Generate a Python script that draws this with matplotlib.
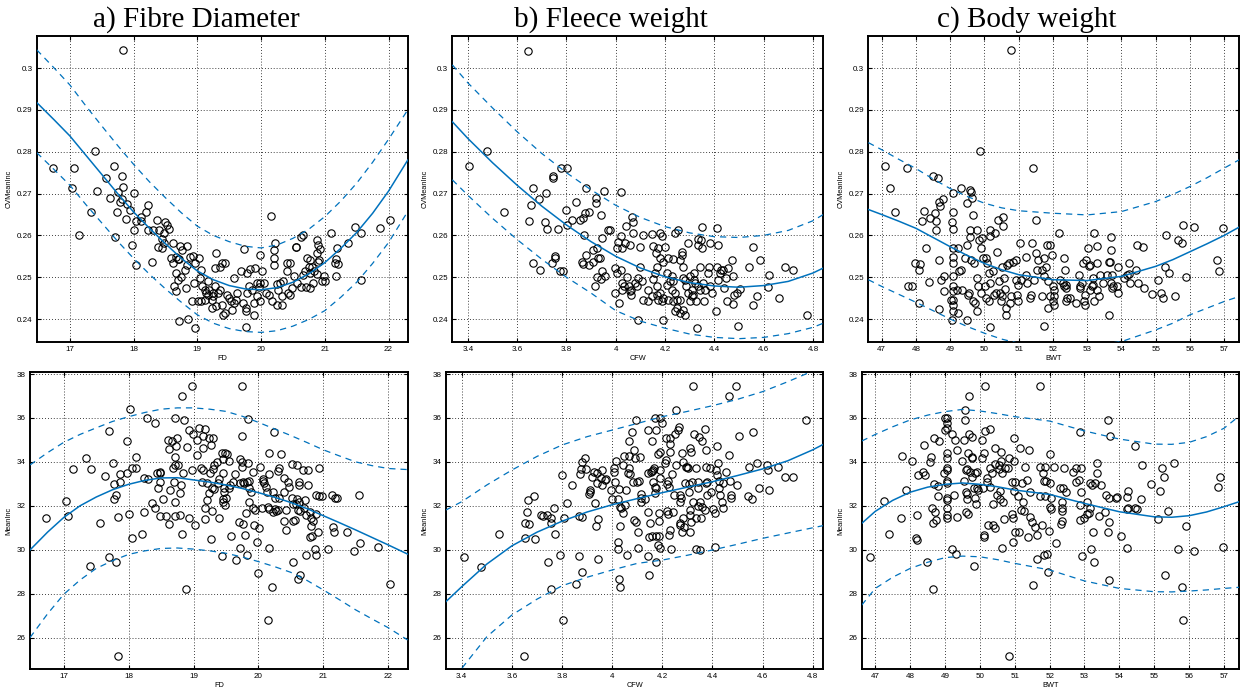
import numpy as np
import matplotlib
matplotlib.use('Agg')
import matplotlib.pyplot as plt

# ---------------- data ----------------
# top row: CVMeanInc against FD, CFW, BWT
fd_cv = [(16.73,.2762),(17.84,.3044),(17.39,.2803),(17.03,.2714),(17.07,.2761),(17.42,.2707),(17.15,.2601),
         (17.33,.2657),(17.56,.2737),(17.69,.2765),(17.82,.2743),(17.63,.2690),(17.76,.2704),(17.84,.2715),
         (17.78,.2681),(17.82,.2688),(17.74,.2655),(17.90,.2675),(17.94,.2661),(17.88,.2640),(18.01,.2701),
         (18.04,.2635),(18.12,.2645),(18.12,.2635),(18.22,.2673),(18.20,.2657),(18.01,.2613),(17.71,.2596),
         (17.98,.2577),(18.04,.2530),(18.23,.2613),(18.30,.2613),(18.29,.2537),(18.37,.2637),(18.40,.2613),
         (18.38,.2573),(18.45,.2591),(18.47,.2583),(18.44,.2569),(18.49,.2631),(18.53,.2624),(18.56,.2615),
         (18.47,.2605),(18.62,.2581),(18.62,.2533),(18.59,.2545),(18.67,.2549),(18.70,.2543),(18.72,.2543),
         (18.76,.2565),(18.73,.2575),(18.84,.2575),(18.88,.2549),(18.84,.2530),(18.93,.2551),(18.97,.2533),
         (19.02,.2545),(18.67,.2510),(18.70,.2494),(18.75,.2500),(18.81,.2518),(18.64,.2479),(18.66,.2466),
         (18.82,.2474),(18.92,.2442),(19.01,.2442),(18.71,.2396),(18.85,.2400),(18.97,.2378),(18.95,.2486),
         (19.06,.2518),(19.04,.2498),(19.08,.2478),(19.12,.2470),(19.14,.2463),(19.17,.2458),(19.12,.2446),
         (19.06,.2442),(19.19,.2470),(19.25,.2462),(19.27,.2478),(19.29,.2557),(19.27,.2521),(19.35,.2525),
         (19.23,.2426),(19.30,.2430),(19.38,.2434),(19.41,.2410),(19.39,.2533),(19.17,.2490),(19.32,.2462),
         (19.35,.2470),(19.25,.2454),(19.23,.2446),
         (20.15,.2647),(20.22,.2581),(19.99,.2553),(19.73,.2567),(19.44,.2533),(19.57,.2498),(19.68,.2514),
         (19.78,.2511),(19.83,.2519),(19.91,.2522),(20.02,.2516),(20.20,.2565),(20.20,.2545),(20.20,.2529),
         (19.44,.2414),(19.46,.2458),(19.49,.2450),(19.53,.2442),(19.57,.2438),(19.60,.2446),(19.62,.2462),
         (19.55,.2422),(19.71,.2438),(19.76,.2426),(19.76,.2418),(19.78,.2462),(19.81,.2478),(19.86,.2470),
         (19.89,.2438),(19.89,.2410),(19.77,.2382),(19.94,.2486),(19.97,.2476),(19.99,.2487),(20.04,.2487),
         (20.07,.2462),(20.12,.2458),(19.94,.2454),(19.99,.2442),(20.17,.2442),(20.25,.2434),(20.33,.2434),
         (20.27,.2470),(20.30,.2487),(20.25,.2483),(20.35,.2491),(20.40,.2514),(20.46,.2533),(20.40,.2533),
         (20.33,.2454),(20.43,.2462),(20.49,.2474),(20.46,.2458),(20.54,.2573),(20.55,.2573),(20.51,.2502),
         (20.57,.2487),(20.62,.2476),(20.62,.2597),(20.66,.2601),(20.66,.2506),(20.69,.2514),(20.72,.2545),
         (20.77,.2541),(20.75,.2525),(20.80,.2525),(20.77,.2510),(20.83,.2514),(20.71,.2476),(20.77,.2474),
         (20.81,.2485),(20.87,.2557),(20.90,.2537),(20.91,.2541),(20.93,.2567),(20.88,.2589),(20.90,.2577),
         (20.88,.2508),(20.96,.2490),(20.98,.2502),(21.01,.2492),(21.09,.2605),(21.17,.2502),(21.19,.2571),
         (21.16,.2533),(21.21,.2531),(21.17,.2543),(21.37,.2583),(21.48,.2621),(21.57,.2605),(21.56,.2494),
         (21.86,.2618),(22.03,.2637)]

cfw_cv = [(3.646,.3042),(3.477,.2803),(3.405,.2765),(3.547,.2657),(3.664,.2714),(3.658,.2673),(3.650,.2635),
          (3.689,.2688),(3.716,.2701),(3.715,.2631),(3.723,.2615),(3.666,.2533),(3.693,.2518),(3.745,.2743),
          (3.747,.2737),(3.777,.2761),(3.804,.2762),(3.753,.2545),(3.754,.2551),(3.741,.2533),(3.764,.2615),
          (3.772,.2514),(3.788,.2516),(3.797,.2661),(3.801,.2625),(3.822,.2637),(3.838,.2681),(3.855,.2637),
          (3.869,.2641),(3.878,.2714),(3.876,.2653),(3.892,.2657),(3.870,.2601),(3.878,.2553),(3.865,.2537),
          (3.869,.2532),(3.892,.2529),(3.907,.2565),(3.909,.2537),(3.919,.2689),(3.920,.2677),(3.926,.2569),
          (3.930,.2545),(3.936,.2545),(3.939,.2649),(3.943,.2593),(3.914,.2479),(3.926,.2500),(3.941,.2495),
          (3.943,.2516),(3.958,.2502),(3.954,.2707),(3.970,.2612),(3.977,.2613),(3.995,.2463),(3.997,.2522),
          (4.004,.2510),(4.004,.2569),(4.020,.2703),(4.022,.2599),(4.024,.2569),(4.011,.2585),(4.014,.2439),
          (4.020,.2518),(4.024,.2486),(4.024,.2470),(4.034,.2479),(4.039,.2583),(4.041,.2623),(4.045,.2500),
          (4.055,.2478),(4.058,.2466),(4.061,.2458),(4.065,.2645),(4.069,.2633),(4.072,.2605),(4.058,.2577),
          (4.061,.2470),(4.092,.2398),(4.078,.2486),(4.085,.2478),(4.092,.2498),(4.099,.2525),(4.099,.2573),
          (4.109,.2601),(4.105,.2490),
          (4.112,.2446),(4.132,.2470),(4.132,.2442),(4.146,.2454),(4.166,.2478),(4.166,.2458),(4.173,.2446),
          (4.180,.2462),(4.186,.2442),(4.193,.2450),(4.193,.2398),(4.150,.2495),(4.159,.2510),(4.166,.2525),
          (4.173,.2569),(4.152,.2575),(4.163,.2557),(4.147,.2603),(4.180,.2605),(4.186,.2599),(4.200,.2573),
          (4.180,.2545),(4.193,.2537),(4.214,.2545),(4.207,.2510),(4.227,.2502),(4.220,.2490),(4.234,.2490),
          (4.207,.2482),(4.227,.2470),(4.241,.2462),(4.214,.2446),(4.234,.2442),(4.247,.2446),(4.261,.2446),
          (4.247,.2426),(4.241,.2418),(4.259,.2414),(4.274,.2422),(4.281,.2410),(4.234,.2543),(4.241,.2605),
          (4.254,.2613),(4.268,.2561),(4.268,.2553),(4.261,.2541),(4.272,.2525),(4.274,.2498),(4.281,.2494),
          (4.285,.2479),(4.295,.2462),(4.295,.2581),(4.300,.2502),(4.301,.2442),(4.308,.2470),(4.308,.2454),
          (4.315,.2458),(4.318,.2494),(4.318,.2511),(4.322,.2487),(4.326,.2442),(4.328,.2378),(4.335,.2478),
          (4.335,.2577),(4.332,.2591),(4.349,.2621),(4.345,.2589),(4.349,.2569),(4.342,.2525),(4.342,.2470),
          (4.355,.2487),(4.362,.2470),(4.358,.2442),(4.376,.2510),(4.380,.2525),(4.382,.2581),(4.382,.2478),
          (4.389,.2462),(4.407,.2418),(4.409,.2617),(4.416,.2577),(4.412,.2525),(4.416,.2494),(4.423,.2510),
          (4.426,.2518),(4.436,.2518),(4.439,.2474),(4.447,.2498),(4.453,.2442),(4.457,.2522),(4.470,.2541),
          (4.474,.2502),(4.474,.2436),(4.480,.2458),(4.491,.2462),(4.497,.2384),(4.504,.2471),(4.542,.2525),
          (4.555,.2573),(4.558,.2434),(4.572,.2455),(4.585,.2540),(4.619,.2476),(4.623,.2506),(4.664,.2450),
          (4.688,.2525),(4.720,.2518),(4.774,.2410)]

bwt_cv = [(50.79,.3044),(49.86,.2803),(47.10,.2765),(47.75,.2762),(47.24,.2714),(47.39,.2657),(48.49,.2742),
          (48.65,.2737),(48.23,.2659),(48.17,.2635),(48.41,.2641),(48.55,.2653),(48.58,.2635),(48.60,.2613),
          (48.66,.2681),(48.70,.2671),(48.80,.2687),(49.07,.2701),(49.09,.2657),(49.06,.2631),(49.07,.2615),
          (49.32,.2713),(49.57,.2709),(49.62,.2705),(49.65,.2689),(49.48,.2677),(49.67,.2649),(48.28,.2569),
          (47.96,.2533),(48.11,.2532),(48.10,.2518),(47.78,.2478),(47.88,.2479),(48.08,.2439),(48.38,.2488),
          (48.66,.2541),(48.67,.2423),(48.73,.2494),(48.82,.2502),(48.83,.2466),(49.03,.2446),(49.05,.2398),
          (49.07,.2569),(49.07,.2549),(49.07,.2533),(49.07,.2502),(49.07,.2478),(49.07,.2466),(49.07,.2446),
          (49.07,.2434),(49.09,.2418),(49.19,.2470),(49.22,.2414),(49.23,.2569),(49.27,.2516),(49.32,.2518),
          (49.42,.2545),(49.35,.2470),(49.49,.2577),(49.52,.2458),(49.55,.2462),(49.49,.2398),(49.58,.2613),
          (49.58,.2597),(49.62,.2541),(49.67,.2442),(49.72,.2439),(49.69,.2533),(49.77,.2613),(49.77,.2498),
          (49.82,.2478),(49.79,.2418),(49.84,.2589),(49.91,.2462),(49.91,.2569),(49.96,.2545),(49.94,.2593),
          (50.01,.2478),(50.04,.2450),(50.06,.2545),(50.08,.2533),(50.13,.2510),(50.16,.2613),(50.17,.2599),
          (50.16,.2486),(50.14,.2442),(50.16,.2380),(50.25,.2514),(50.27,.2458),(50.30,.2605),(50.35,.2462),
          (50.38,.2561),(50.40,.2637),(50.43,.2490),(50.45,.2462),(50.47,.2442),(50.50,.2454),(50.54,.2645),
          (50.54,.2623),(50.52,.2525),(50.57,.2498),(50.59,.2471),(50.62,.2426),(50.64,.2410),(50.66,.2529),
          (50.72,.2533),(50.74,.2438),(50.79,.2454),(50.82,.2537),(50.91,.2541),(50.93,.2494),(50.95,.2458),
          (50.98,.2442),(50.98,.2482),(51.03,.2583),(51.08,.2494),(51.22,.2549),(51.24,.2487),(51.22,.2506),
          (51.32,.2450),(51.37,.2458),(51.39,.2581),(51.42,.2761),(51.50,.2637),(51.50,.2557),(51.53,.2518),
          (51.56,.2541),(51.44,.2494),
          (51.73,.2545),(51.83,.2577),(51.90,.2577),(51.97,.2553),(51.81,.2525),(51.68,.2518),(51.73,.2502),
          (51.87,.2490),(51.68,.2454),(51.92,.2454),(51.87,.2426),(52.00,.2478),(52.04,.2470),(52.04,.2454),
          (52.00,.2442),(52.02,.2434),(51.75,.2384),(52.19,.2605),(52.33,.2545),(52.36,.2518),(52.21,.2494),
          (52.29,.2487),(52.31,.2478),(52.39,.2482),(52.39,.2474),(52.41,.2450),(52.39,.2442),(52.49,.2450),
          (52.68,.2438),(52.75,.2506),(52.80,.2479),(52.84,.2487),(52.78,.2474),(52.89,.2533),(52.94,.2434),
          (52.91,.2442),(52.94,.2458),(52.97,.2541),(53.04,.2527),(53.09,.2529),(53.01,.2571),(53.07,.2470),
          (53.14,.2478),(53.17,.2482),(53.18,.2498),(53.20,.2605),(53.20,.2442),(53.28,.2575),(53.28,.2533),
          (53.28,.2470),(53.33,.2455),(53.38,.2506),(53.46,.2487),(53.57,.2506),(53.65,.2537),(53.67,.2537),
          (53.69,.2597),(53.69,.2565),(53.72,.2505),(53.69,.2487),(53.72,.2474),(53.75,.2479),(53.65,.2410),
          (53.88,.2478),(53.91,.2462),(53.91,.2525),(54.06,.2498),(54.17,.2506),(54.23,.2508),(54.23,.2535),
          (54.25,.2487),(54.43,.2518),(54.47,.2487),(54.45,.2577),(54.62,.2573),(54.66,.2474),(54.88,.2460),
          (55.08,.2494),(55.15,.2463),(55.21,.2450),(55.27,.2524),(55.30,.2601),(55.40,.2510),(55.56,.2455),
          (55.66,.2589),(55.76,.2581),(55.81,.2625),(55.88,.2500),(56.12,.2621),(56.80,.2540),(56.85,.2516),
          (56.95,.2617)]

# bottom row: MeanInc against FD, CFW, BWT
fd_mean = [(18.98,37.47),(18.82,37.01),(18.02,36.39),(18.29,36.01),(18.40,35.78),(18.71,36.01),(18.85,35.89),
           (17.70,35.41),(17.98,34.97),(18.60,35.00),(18.67,34.95),(18.74,35.10),(18.93,35.45),(18.99,35.25),
           (19.09,35.53),(19.17,35.50),(19.15,35.20),(19.24,35.10),(19.30,35.10),(19.06,35.00),(18.73,34.74),
           (18.62,34.57),(18.90,34.69),(19.15,34.62),(19.27,34.77),(19.44,34.39),(19.05,34.31),(18.72,34.24),
           (18.12,34.24),(17.35,34.19),(17.76,33.96),(17.42,33.66),(17.15,33.66),(17.63,33.35),(17.87,33.43),
           (17.97,33.48),(18.05,33.70),(18.12,33.73),(18.43,33.48),(18.48,33.55),(18.49,33.48),(18.23,33.25),
           (18.30,33.22),(17.78,32.98),(17.87,33.07),(18.48,33.07),(18.70,33.07),(18.84,33.48),(18.72,33.86),
           (18.76,33.86),(18.68,33.70),(18.81,32.95),(18.97,33.63),(19.12,33.70),(19.15,33.63),(19.13,33.10),
           (19.20,33.05),(19.26,33.48),(19.30,33.66),(19.32,33.86),(19.36,33.98),(18.45,32.83),(18.64,32.72),
           (18.79,32.57),(17.81,32.49),(17.77,32.31),(17.04,32.23),(18.36,32.14),(18.40,31.91),(18.53,32.31),
           (18.72,32.19),(19.24,32.57),(19.21,32.26),(19.28,32.83),(19.31,32.77),(19.40,33.22),(19.37,33.02),
           (16.73,31.43),(17.07,31.54),(17.56,31.23),(17.83,31.50),(18.01,31.61),(18.23,31.70),(18.48,31.54),
           (18.57,31.55),(18.62,31.16),(18.71,31.54),(18.79,31.58),(18.93,31.46),(19.02,31.13),(19.18,31.91),
           (19.18,31.38),(19.29,31.76),(19.40,31.43),(18.05,30.55),(18.21,30.70),(18.82,30.70),(19.27,30.47),
           (17.69,29.68),(17.81,29.46),(17.40,29.24),(18.88,28.20),(17.83,25.18),(19.44,29.71),
           (19.49,34.42),(19.51,34.34),(19.46,34.13),(19.45,33.48),(19.47,32.64),(19.47,32.80),(19.46,32.31),
           (19.50,32.37),(19.46,32.16),(19.49,32.04),
           (19.75,37.47),(19.84,35.94),(19.74,35.19),(20.24,35.37),(19.55,34.06),(19.64,33.43),(19.61,33.10),
           (19.56,32.95),(19.54,32.80),(19.71,34.13),(19.74,34.01),(19.75,33.78),(19.72,33.02),(19.76,33.10),
           (19.78,33.02),(19.82,33.10),(19.85,33.13),(19.84,33.93),(19.91,33.55),(19.86,32.80),(19.89,32.64),
           (19.85,32.19),(19.91,31.88),(19.94,31.81),(19.81,31.69),(19.70,31.28),(19.76,31.16),(19.93,31.13),
           (20.01,31.00),(19.80,30.67),(19.72,30.06),(19.82,29.76),(19.58,30.62),(19.98,30.37),(19.99,28.93),
           (19.65,29.53),(20.02,33.78),(20.07,33.22),(20.07,33.13),(20.09,33.05),(20.11,32.87),(20.13,32.64),
           (20.06,31.91),(20.14,31.96),(20.17,31.85),(20.17,34.39),(20.34,34.36),(20.30,33.58),(20.32,33.70),
           (20.16,33.43),(20.22,32.64),(20.25,32.34),(20.22,31.73),(20.25,31.85),(20.27,31.76),(20.30,31.81),
           (20.32,32.34),(20.39,33.28),(20.40,32.64),(20.45,33.07),(20.47,32.87),(20.51,33.89),(20.42,31.81),
           (20.40,31.31),(20.43,30.90),(20.51,32.37),(20.53,32.07),(20.58,32.07),(20.53,31.31),(20.57,31.35),
           (20.60,33.86),(20.63,33.10),(20.63,32.95),(20.59,32.31),(20.63,32.19),(20.61,31.81),(20.64,31.76),
           (20.70,31.91),(20.68,33.63),(20.71,32.26),(20.74,31.58),(20.76,32.95),(20.77,33.63),(20.80,31.73),
           (20.81,31.46),(20.84,31.31),(20.81,31.10),(20.79,30.59),(20.83,30.64),(20.89,32.49),(20.89,31.61),
           (20.93,33.70),(20.94,32.46),(20.98,32.46),(20.92,30.82),(20.87,30.02),(20.88,29.76),(21.07,30.02),
           (20.73,29.76),(20.54,29.46),(20.64,28.85),(20.61,28.67),(20.17,30.06),(20.21,28.32),(20.14,26.80),
           (21.14,32.48),(21.18,32.37),(21.21,32.34),(21.15,31.05),(21.16,30.82),(21.36,30.82),(21.55,32.49),
           (21.56,30.29),(21.47,29.94),(21.85,30.14),(22.03,28.42)]

cfw_mean = [(3.407,29.68),(3.478,29.23),(3.547,30.70),(3.651,31.20),(3.663,32.26),(3.661,31.70),(3.667,31.16),
            (3.654,30.55),(3.690,32.46),(3.694,30.47),(3.717,31.58),(3.725,31.55),(3.738,31.58),(3.754,31.46),
            (3.757,31.20),(3.768,31.88),(3.773,30.70),(3.745,29.46),(3.754,28.20),(3.790,29.76),(3.801,33.40),
            (3.808,31.43),(3.821,32.11),(3.841,32.95),(3.805,26.80),(3.647,25.18),(3.868,31.55),(3.881,31.50),
            (3.867,29.71),(3.881,28.97),(3.857,28.42),(3.872,33.43),(3.877,33.68),(3.881,33.98),(3.892,34.19),
            (3.897,33.68),(3.908,32.52),(3.913,32.61),(3.912,32.72),(3.921,33.31),(3.928,33.55),(3.939,33.02),
            (3.941,33.48),(3.931,32.14),(3.935,31.10),(3.944,31.40),(3.944,29.56),(3.955,33.25),(3.961,32.95),
            (3.961,33.63),(3.970,33.17),(3.977,33.22),(3.997,32.72),(3.998,32.31),(4.008,33.73),(4.006,33.52),
            (4.012,33.07),(4.015,34.04),(4.024,32.31),(4.028,32.77),(4.032,31.96),(4.022,30.37),(4.024,30.02),
            (4.030,31.10),(4.029,28.67),(4.032,28.32),(4.035,31.88),(4.042,31.66),(4.042,33.86),(4.048,34.28),
            (4.051,32.04),(4.055,32.72),(4.062,33.48),(4.068,34.95),(4.068,34.28),(4.068,33.73),(4.071,33.45),
            (4.059,29.76),(4.082,33.07),(4.088,34.54),(4.088,31.35),(4.095,35.91),(4.099,33.10),(4.095,31.28),
            (4.102,30.82),(4.102,30.06),(4.105,33.13),(4.109,34.24),(4.113,32.52),(4.115,32.19),
            (4.080,35.37),(4.089,34.16),
            (4.116,32.34),(4.131,32.31),(4.143,33.48),(4.153,33.52),(4.157,33.60),(4.163,33.63),(4.165,33.70),
            (4.143,35.45),(4.176,35.45),(4.160,34.95),(4.172,36.01),(4.189,36.01),(4.200,35.75),(4.183,34.34),
            (4.189,34.46),(4.143,31.73),(4.149,31.20),(4.147,30.59),(4.157,30.64),(4.176,30.64),(4.188,30.64),
            (4.183,30.21),(4.192,30.06),(4.143,29.73),(4.174,29.46),(4.147,28.85),(4.163,33.07),(4.169,32.87),
            (4.169,32.57),(4.174,32.80),(4.189,33.63),(4.192,33.25),(4.188,31.66),(4.188,31.31),(4.209,33.93),
            (4.216,34.09),(4.213,35.07),(4.229,35.07),(4.229,34.80),(4.232,34.46),(4.223,33.13),(4.219,32.98),
            (4.226,32.87),(4.219,31.76),(4.223,31.61),(4.229,30.90),(4.226,30.67),(4.236,30.02),(4.240,33.43),
            (4.243,31.73),(4.245,32.49),(4.249,35.29),(4.253,36.36),(4.263,35.45),(4.267,35.60),(4.256,33.86),
            (4.269,32.49),(4.269,32.19),(4.276,32.34),(4.272,31.13),(4.280,34.39),(4.283,34.01),(4.269,31.20),
            (4.283,31.43),(4.285,31.05),(4.280,30.82),(4.289,33.02),(4.293,33.78),(4.299,33.78),(4.303,33.73),
            (4.307,32.98),(4.307,32.64),(4.309,31.81),(4.316,34.46),(4.312,34.65),(4.312,31.58),(4.316,31.28),
            (4.309,30.82),(4.320,33.10),(4.323,32.19),(4.327,35.25),(4.323,37.47),(4.334,31.43),(4.336,33.70),
            (4.336,30.03),(4.343,33.10),(4.343,32.80),(4.343,32.01),(4.347,35.15),(4.350,32.19),(4.352,29.99),
            (4.356,31.43),(4.360,34.95),(4.360,31.96),(4.370,31.81),(4.370,35.50),(4.374,34.54),(4.374,33.78),
            (4.376,33.02),(4.379,33.10),(4.379,32.49),(4.390,33.70),(4.396,32.64),(4.403,31.85),(4.410,30.14),
            (4.410,31.66),(4.414,33.63),(4.416,34.74),(4.419,33.40),(4.423,33.93),(4.427,32.83),(4.427,33.13),
            (4.430,32.49),(4.436,32.19),(4.440,33.02),(4.443,31.91),(4.454,33.55),(4.467,34.31),(4.470,33.13),
            (4.472,32.49),(4.472,32.37),(4.467,37.01),(4.494,37.45),(4.496,32.95),(4.507,35.19),(4.543,32.46),
            (4.556,32.31),(4.547,33.75),(4.561,35.37),(4.577,33.93),(4.587,32.83),(4.617,33.86),(4.623,33.63),
            (4.627,32.72),(4.663,33.75),(4.690,33.33),(4.721,33.33),(4.774,35.92)]

bwt_mean = [(46.84,29.68),(47.24,32.23),(47.39,30.70),(47.75,31.43),(47.88,32.72),(47.78,34.28),(48.06,34.05),
            (48.20,31.58),(48.16,30.55),(48.20,30.44),(48.23,33.40),(48.38,33.55),(48.42,33.40),(48.39,34.77),
            (48.57,33.98),(48.59,34.24),(48.49,29.46),(48.66,28.20),(48.62,31.91),(48.66,31.23),(48.74,31.35),
            (48.71,31.73),(48.68,32.98),(48.68,35.10),(48.84,34.95),(48.81,32.92),(48.81,32.46),(49.00,35.45),
            (49.00,36.01),(49.07,36.01),(49.07,35.75),(49.07,35.53),(48.97,33.51),(49.07,34.39),(49.07,34.19),
            (49.07,33.70),(49.07,33.63),(49.07,33.13),(49.07,33.02),(49.07,32.37),(49.07,32.26),(49.07,31.88),
            (49.07,31.58),(49.07,31.46),(49.19,35.25),(49.26,32.49),(49.29,35.00),(49.34,34.54),(49.34,31.50),
            (49.20,30.02),(49.32,29.79),(49.53,35.00),(49.56,35.91),(49.58,36.36),(49.50,34.04),(49.53,33.13),
            (49.60,33.63),(49.60,32.64),(49.62,33.67),(49.62,32.52),(49.64,32.31),(49.60,31.70),(49.66,31.61),
            (49.66,34.39),(49.68,37.01),(49.68,35.25),(49.76,35.15),(49.72,33.55),(49.77,34.24),(49.77,34.16),
            (49.78,33.33),(49.84,32.83),(49.86,33.51),(49.91,33.55),(49.86,32.34),(49.88,32.07),(49.82,29.27),
            (49.91,32.80),(49.94,32.72),(50.06,35.00),(50.06,34.16),(50.13,34.39),(50.09,32.83),(50.15,35.41),
            (50.15,37.47),(50.20,33.25),(50.20,33.10),(50.22,31.13),(50.11,30.67),(50.13,30.59),(50.28,35.50),
            (50.28,33.73),(50.28,32.87),(50.35,33.48),(50.38,32.07),(50.39,31.13),(50.44,30.97),(50.42,34.65),
            (50.44,33.89),(50.49,32.49),(50.54,33.86),(50.54,33.67),(50.57,32.67),(50.59,32.31),(50.61,34.04),
            (50.61,34.43),(50.63,33.48),(50.66,32.19),(50.63,30.09),(50.70,31.40),(50.73,33.70),(50.80,33.70),
            (50.83,34.19),(50.83,25.18),(50.92,31.61),(50.92,33.10),(50.95,31.46),(50.95,30.37),(50.97,35.10),
            (50.99,34.04),(50.99,32.67),(51.02,33.10),(51.02,30.82),(51.09,32.46),(51.12,30.79),(51.14,34.65),
            (51.18,31.81),(51.21,33.02),(51.24,32.19),(51.26,31.76),(51.28,33.78),(51.36,33.17),(51.38,30.59),
            (51.40,34.54),(51.43,32.64),(51.45,31.50),(51.50,31.28),(51.53,28.39),(51.57,31.05),(51.63,29.58),
            (51.64,30.67),(51.73,37.47),(51.71,33.75),(51.71,32.45),
            (51.81,33.49),(51.88,33.75),(51.83,33.13),(51.90,33.13),(52.00,33.02),(52.02,34.34),(52.12,33.78),
            (51.88,32.43),(52.04,32.37),(52.00,31.96),(52.04,31.85),(51.78,31.13),(51.97,30.85),(52.19,30.29),
            (51.83,29.76),(51.92,29.79),(51.94,28.97),(52.31,32.83),(52.38,32.83),(52.40,33.70),(52.48,32.64),
            (52.36,32.19),(52.36,31.91),(52.36,31.76),(52.36,31.31),(52.33,31.16),(52.67,33.55),(52.77,33.70),
            (52.77,33.10),(52.84,33.17),(52.90,33.73),(52.90,32.64),(52.88,35.37),(52.87,32.04),(52.88,31.35),
            (52.93,29.73),(52.98,31.43),(53.06,32.16),(53.08,31.61),(53.12,31.66),(53.17,31.88),(53.15,33.02),
            (53.22,32.95),(53.25,30.82),(53.19,30.03),(53.27,29.46),(53.29,33.02),(53.37,33.48),(53.37,33.93),
            (53.41,31.55),(53.46,32.95),(53.58,31.70),(53.63,32.49),(53.67,35.91),(53.67,30.82),(53.70,31.25),
            (53.70,32.34),(53.73,35.19),(53.70,28.62),(53.89,32.37),(53.92,32.42),(54.04,30.64),(54.21,31.85),
            (54.25,31.88),(54.23,30.06),(54.21,32.42),(54.25,32.67),(54.44,34.74),(54.44,31.91),(54.50,31.85),
            (54.62,32.31),(54.66,33.86),(54.90,32.98),(55.10,31.40),(55.17,32.67),(55.21,33.73),(55.29,33.33),
            (55.31,28.85),(55.40,31.76),(55.56,33.93),(55.67,30.03),(55.79,28.32),(55.82,26.80),(55.91,31.10),
            (56.13,29.94),(56.83,32.87),(56.88,33.33),(56.97,30.14)]

# fitted curves and dashed bands, read at x positions along each axis
fd_grid = [16.48, 16.75, 17.0, 17.25, 17.5, 17.75, 18.0, 18.25, 18.5, 18.75, 19.0, 19.25, 19.5, 19.75,
           20.0, 20.25, 20.5, 20.75, 21.0, 21.25, 21.5, 21.75, 22.0, 22.3]
fd_cv_fit = [0.2918, 0.2877, 0.2838, 0.2792, 0.2746, 0.2700, 0.2656, 0.2617, 0.2580, 0.2545, 0.2515,
             0.2494, 0.2480, 0.2472, 0.2470, 0.2475, 0.2488, 0.2508, 0.2535, 0.2569, 0.2607, 0.2653,
             0.2706, 0.2780]
fd_cv_up = [0.3044, 0.3001, 0.2960, 0.2910, 0.2862, 0.2815, 0.2770, 0.2728, 0.2690, 0.2654, 0.2622,
            0.2600, 0.2585, 0.2574, 0.2570, 0.2577, 0.2593, 0.2615, 0.2645, 0.2682, 0.2725, 0.2775,
            0.2830, 0.2900]
fd_cv_lo = [0.2798, 0.2758, 0.2720, 0.2674, 0.2630, 0.2586, 0.2545, 0.2507, 0.2472, 0.2440, 0.2410,
            0.2390, 0.2377, 0.2370, 0.2368, 0.2372, 0.2383, 0.2399, 0.2420, 0.2452, 0.2488, 0.2533,
            0.2583, 0.2657]
fd_mean_fit = [29.99, 30.80, 31.47, 32.00, 32.40, 32.73, 32.98, 33.16, 33.27, 33.28, 33.18, 33.08,
               32.95, 32.79, 32.60, 32.39, 32.15, 31.87, 31.55, 31.23, 30.90, 30.56, 30.22, 29.80]
fd_mean_up = [33.86, 34.42, 34.89, 35.25, 35.55, 35.84, 36.06, 36.25, 36.40, 36.46, 36.46, 36.40,
              36.30, 36.08, 35.80, 35.50, 35.20, 34.88, 34.55, 34.27, 34.00, 33.83, 33.70, 33.65]
fd_mean_lo = [26.00, 27.08, 27.97, 28.62, 29.15, 29.50, 29.79, 29.95, 30.06, 30.08, 30.03, 29.95,
              29.84, 29.67, 29.46, 29.23, 28.97, 28.60, 28.17, 27.72, 27.26, 26.85, 26.45, 25.89]

cfw_grid = [3.337, 3.4, 3.5, 3.6, 3.7, 3.8, 3.9, 4.0, 4.1, 4.2, 4.3, 4.4, 4.5, 4.6, 4.7, 4.8, 4.842]
cfw_cv_fit = [0.2872, 0.2832, 0.2774, 0.2720, 0.2670, 0.2625, 0.2585, 0.2550, 0.2522, 0.2501, 0.2487,
              0.2479, 0.2476, 0.2480, 0.2490, 0.2510, 0.2522]
cfw_cv_up = [0.3008, 0.2965, 0.2905, 0.2848, 0.2796, 0.2750, 0.2709, 0.2672, 0.2643, 0.2621, 0.2606,
             0.2597, 0.2595, 0.2600, 0.2612, 0.2635, 0.2650]
cfw_cv_lo = [0.2733, 0.2696, 0.2641, 0.2590, 0.2543, 0.2500, 0.2462, 0.2420, 0.2395, 0.2378, 0.2364,
             0.2356, 0.2353, 0.2356, 0.2365, 0.2380, 0.2390]
cfw_mean_fit = [27.64, 28.32, 29.35, 30.18, 30.80, 31.30, 31.72, 32.05, 32.33, 32.60, 32.85, 33.10,
                33.38, 33.68, 34.05, 34.55, 34.80]
cfw_mean_up = [31.81, 32.19, 32.95, 33.63, 34.25, 34.77, 35.15, 35.45, 35.75, 36.06, 36.30, 36.56,
               36.85, 37.20, 37.65, 38.14, 38.40]
cfw_mean_lo = [23.90, 24.60, 26.04, 27.03, 27.75, 28.36, 28.75, 29.08, 29.38, 29.53, 29.75, 29.99,
               30.25, 30.52, 30.76, 31.00, 31.10]

bwt_grid = [46.61, 47, 47.5, 48, 48.5, 49, 49.5, 50, 50.5, 51, 52, 53, 54, 55, 55.5, 56, 56.5, 57, 57.44]
bwt_cv_fit = [0.2662, 0.2650, 0.2634, 0.2617, 0.2595, 0.2573, 0.2552, 0.2533, 0.2518, 0.2506, 0.2494,
              0.2492, 0.2502, 0.2526, 0.2542, 0.2561, 0.2580, 0.2600, 0.2620]
bwt_cv_up = [0.2822, 0.2805, 0.2782, 0.2760, 0.2735, 0.2712, 0.2693, 0.2677, 0.2666, 0.2659, 0.2653,
             0.2649, 0.2657, 0.2681, 0.2698, 0.2717, 0.2738, 0.2761, 0.2781]
bwt_cv_lo = [0.2494, 0.2478, 0.2459, 0.2440, 0.2420, 0.2400, 0.2382, 0.2366, 0.2352, 0.2342, 0.2333,
             0.2335, 0.2346, 0.2374, 0.2390, 0.2410, 0.2426, 0.2442, 0.2454]
bwt_mean_fit = [31.20, 31.75, 32.25, 32.62, 32.85, 32.98, 33.04, 32.98, 32.87, 32.72, 32.52, 32.11,
                31.73, 31.50, 31.48, 31.55, 31.72, 31.96, 32.19]
bwt_mean_up = [34.95, 35.25, 35.60, 35.91, 36.13, 36.29, 36.39, 36.32, 36.20, 36.06, 35.86, 35.41,
               35.04, 34.81, 34.80, 34.89, 35.15, 35.53, 36.09]
bwt_mean_lo = [27.48, 28.24, 28.75, 29.15, 29.43, 29.64, 29.71, 29.68, 29.55, 29.38, 29.08, 28.58,
               28.24, 28.09, 28.08, 28.12, 28.17, 28.24, 28.29]

titles = ['a) Fibre Diameter', 'b) Fleece weight', 'c) Body weight']
title_x_px = [196, 611, 1027]
xnames = ['FD', 'CFW', 'BWT']
xlims = [(16.48, 22.30), (3.337, 4.842), (46.61, 57.44)]
xtick_vals = [[17, 18, 19, 20, 21, 22],
              [3.4, 3.6, 3.8, 4.0, 4.2, 4.4, 4.6, 4.8],
              [47, 48, 49, 50, 51, 52, 53, 54, 55, 56, 57]]
xtick_text = [['17', '18', '19', '20', '21', '22'],
              ['3.4', '3.6', '3.8', '4', '4.2', '4.4', '4.6', '4.8'],
              ['47', '48', '49', '50', '51', '52', '53', '54', '55', '56', '57']]
cv_ticks = [0.24, 0.25, 0.26, 0.27, 0.28, 0.29, 0.30]
cv_text = ['0.24', '0.25', '0.26', '0.27', '0.28', '0.29', '0.3']
mean_ticks = [26, 28, 30, 32, 34, 36, 38]

# ---------------- drawing ----------------
W, H = 1241, 696
BLUE = '#0072BD'
plt.rcParams['font.family'] = ['Liberation Sans', 'DejaVu Sans']

fig = plt.figure(figsize=(W / 100, H / 100), dpi=100)

# axes boxes in pixels: left, top, right, bottom
top_boxes = [(36.7, 36, 407.7, 342), (452.3, 36, 823.3, 342), (868.3, 36, 1239.3, 342)]
bot_boxes = [(30, 372.3, 407.7, 669), (446, 372.3, 823.3, 669), (861.7, 372.3, 1239.3, 669)]


def make_axes(box):
    l, t, r, b = box
    return fig.add_axes([l / W, 1 - b / H, (r - l) / W, (b - t) / H])


def draw(ax, pts, grid, fit, up, lo, xlim, ylim, xt, xtl, yt, ytl, xlabel, ylabel):
    pts = np.array(pts)
    ax.plot(pts[:, 0], pts[:, 1], 'o', mfc='none', mec='k', ms=5.3, mew=0.8, zorder=3)
    ax.plot(grid, fit, '-', color=BLUE, lw=1.1, zorder=4)
    ax.plot(grid, up, '--', color=BLUE, lw=0.9, dashes=(5, 4), zorder=4)
    ax.plot(grid, lo, '--', color=BLUE, lw=0.9, dashes=(5, 4), zorder=4)
    ax.set_xlim(*xlim)
    ax.set_ylim(*ylim)
    ax.set_xticks(xt)
    ax.set_xticklabels(xtl)
    ax.set_yticks(yt)
    ax.set_yticklabels(ytl)
    ax.grid(True, color='k', linestyle=(0, (1, 2.5)), linewidth=0.6)
    ax.tick_params(direction='in', length=3, width=0.8, top=True, right=True,
                   labelsize=5.8, pad=3)
    for s in ax.spines.values():
        s.set_linewidth(1.4)
    ax.set_xlabel(xlabel, fontsize=5.3, labelpad=1.5)
    ax.set_ylabel(ylabel, fontsize=5.3, labelpad=3)


top_sets = [(fd_cv, fd_grid, fd_cv_fit, fd_cv_up, fd_cv_lo),
            (cfw_cv, cfw_grid, cfw_cv_fit, cfw_cv_up, cfw_cv_lo),
            (bwt_cv, bwt_grid, bwt_cv_fit, bwt_cv_up, bwt_cv_lo)]
bot_sets = [(fd_mean, fd_grid, fd_mean_fit, fd_mean_up, fd_mean_lo),
            (cfw_mean, cfw_grid, cfw_mean_fit, cfw_mean_up, cfw_mean_lo),
            (bwt_mean, bwt_grid, bwt_mean_fit, bwt_mean_up, bwt_mean_lo)]

for i in range(3):
    ax = make_axes(top_boxes[i])
    pts, g, f, u, lo = top_sets[i]
    draw(ax, pts, g, f, u, lo, xlims[i], (0.2345, 0.3077), xtick_vals[i], xtick_text[i],
         cv_ticks, cv_text, xnames[i], 'CVMeanInc')

    ax = make_axes(bot_boxes[i])
    pts, g, f, u, lo = bot_sets[i]
    draw(ax, pts, g, f, u, lo, xlims[i], (24.57, 38.08), xtick_vals[i], xtick_text[i],
         mean_ticks, [str(v) for v in mean_ticks], xnames[i], 'MeanInc')

    fig.text(title_x_px[i] / W, 1 - 27 / H, titles[i], ha='center', va='baseline',
             fontsize=21, family=['Liberation Serif', 'DejaVu Serif'])

fig.savefig('out.png', dpi=100)
